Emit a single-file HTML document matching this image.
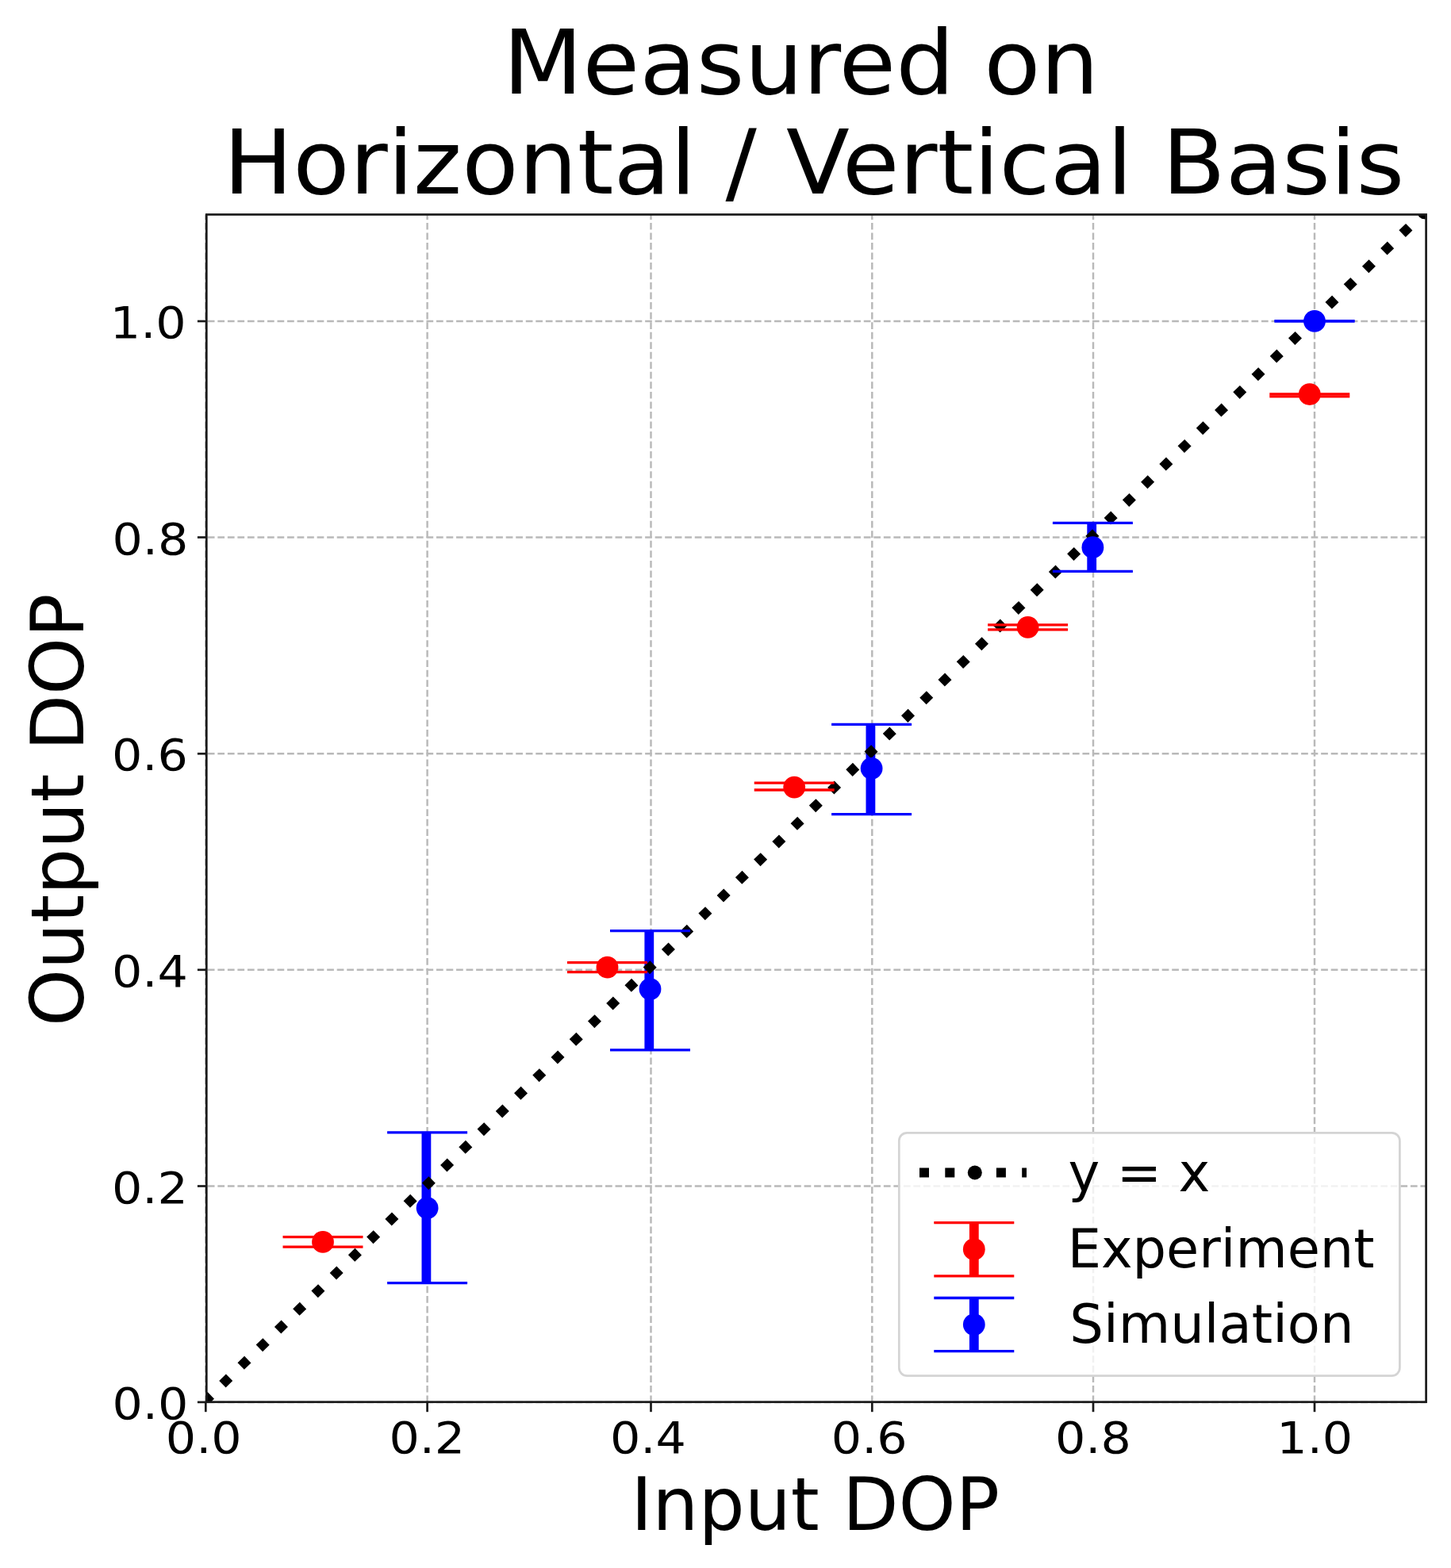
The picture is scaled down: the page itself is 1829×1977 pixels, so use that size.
<!DOCTYPE html><html><head><meta charset="utf-8"><title>Measured on Horizontal / Vertical Basis</title>
<style>html,body{margin:0;padding:0;background:#fff;}svg{display:block;}text{font-family:'DejaVu Sans', 'Liberation Sans', sans-serif;fill:#000;}</style></head><body>
<svg width="1829" height="1977" viewBox="0 0 1829 1977">
<rect x="0" y="0" width="1829" height="1977" fill="#fff"/>
<defs><clipPath id="ax"><rect x="260.3" y="270.5" width="1537.3" height="1497.2"/></clipPath></defs>
<g id="grid">
<line x1="259.3" y1="1768.15" x2="259.3" y2="270.5" stroke="#b9b9b9" stroke-width="2.45" stroke-dasharray="8.73 3.8"/>
<line x1="538.6" y1="1768.15" x2="538.6" y2="270.5" stroke="#b9b9b9" stroke-width="2.45" stroke-dasharray="8.73 3.8"/>
<line x1="820.5" y1="1768.15" x2="820.5" y2="270.5" stroke="#b9b9b9" stroke-width="2.45" stroke-dasharray="8.73 3.8"/>
<line x1="1099.3" y1="1768.15" x2="1099.3" y2="270.5" stroke="#b9b9b9" stroke-width="2.45" stroke-dasharray="8.73 3.8"/>
<line x1="1378.0" y1="1768.15" x2="1378.0" y2="270.5" stroke="#b9b9b9" stroke-width="2.45" stroke-dasharray="8.73 3.8"/>
<line x1="1657.0" y1="1768.15" x2="1657.0" y2="270.5" stroke="#b9b9b9" stroke-width="2.45" stroke-dasharray="8.73 3.8"/>
<line x1="259.3" y1="1767.9" x2="1797.6" y2="1767.9" stroke="#b9b9b9" stroke-width="2.45" stroke-dasharray="8.73 3.8" stroke-dashoffset="-2.5"/>
<line x1="259.3" y1="1495.5" x2="1797.6" y2="1495.5" stroke="#b9b9b9" stroke-width="2.45" stroke-dasharray="8.73 3.8" stroke-dashoffset="-2.5"/>
<line x1="259.3" y1="1222.8" x2="1797.6" y2="1222.8" stroke="#b9b9b9" stroke-width="2.45" stroke-dasharray="8.73 3.8" stroke-dashoffset="-2.5"/>
<line x1="259.3" y1="950.3" x2="1797.6" y2="950.3" stroke="#b9b9b9" stroke-width="2.45" stroke-dasharray="8.73 3.8" stroke-dashoffset="-2.5"/>
<line x1="259.3" y1="677.5" x2="1797.6" y2="677.5" stroke="#b9b9b9" stroke-width="2.45" stroke-dasharray="8.73 3.8" stroke-dashoffset="-2.5"/>
<line x1="259.3" y1="405.0" x2="1797.6" y2="405.0" stroke="#b9b9b9" stroke-width="2.45" stroke-dasharray="8.73 3.8" stroke-dashoffset="-2.5"/>
</g>
<g clip-path="url(#ax)">
<line x1="405.8" y1="1559.7" x2="405.8" y2="1572.05" stroke="#ff0000" stroke-width="11.8"/>
<line x1="764.3" y1="1213.6" x2="764.3" y2="1225.7" stroke="#ff0000" stroke-width="11.8"/>
<line x1="1000.0" y1="987.1" x2="1000.0" y2="996.0" stroke="#ff0000" stroke-width="11.8"/>
<line x1="1294.4" y1="787.9" x2="1294.4" y2="793.8" stroke="#ff0000" stroke-width="11.8"/>
<line x1="1649.6" y1="496.9" x2="1649.6" y2="499.8" stroke="#ff0000" stroke-width="11.8"/>
<line x1="537.4" y1="1427.8" x2="537.4" y2="1617.7" stroke="#0000ff" stroke-width="11.8"/>
<line x1="818.3" y1="1173.6" x2="818.3" y2="1323.9" stroke="#0000ff" stroke-width="11.8"/>
<line x1="1097.4" y1="913.4" x2="1097.4" y2="1026.7" stroke="#0000ff" stroke-width="11.8"/>
<line x1="1376.2" y1="659.3" x2="1376.2" y2="720.4" stroke="#0000ff" stroke-width="11.8"/>
<line x1="258.11" y1="1766.93" x2="1795.58" y2="267.36" stroke="#000" stroke-width="12.0" stroke-dasharray="12.06 20.4" stroke-dashoffset="1.3" stroke-linecap="butt"/>
<circle cx="258.11" cy="1766.93" r="9" fill="#000"/>
<circle cx="1795.5800000000002" cy="267.355" r="9" fill="#000"/>
<line x1="356.5" y1="1559.7" x2="457.5" y2="1559.7" stroke="#ff0000" stroke-width="3.3"/>
<line x1="356.5" y1="1572.05" x2="457.5" y2="1572.05" stroke="#ff0000" stroke-width="3.3"/>
<line x1="715.0" y1="1213.6" x2="816.0" y2="1213.6" stroke="#ff0000" stroke-width="3.3"/>
<line x1="715.0" y1="1225.7" x2="816.0" y2="1225.7" stroke="#ff0000" stroke-width="3.3"/>
<line x1="950.7" y1="987.1" x2="1051.7" y2="987.1" stroke="#ff0000" stroke-width="3.3"/>
<line x1="950.7" y1="996.0" x2="1051.7" y2="996.0" stroke="#ff0000" stroke-width="3.3"/>
<line x1="1245.1" y1="787.9" x2="1346.1" y2="787.9" stroke="#ff0000" stroke-width="3.3"/>
<line x1="1245.1" y1="793.8" x2="1346.1" y2="793.8" stroke="#ff0000" stroke-width="3.3"/>
<line x1="1600.3" y1="496.9" x2="1701.3" y2="496.9" stroke="#ff0000" stroke-width="3.3"/>
<line x1="1600.3" y1="499.8" x2="1701.3" y2="499.8" stroke="#ff0000" stroke-width="3.3"/>
<line x1="488.1" y1="1427.8" x2="589.1" y2="1427.8" stroke="#0000ff" stroke-width="3.3"/>
<line x1="488.1" y1="1617.7" x2="589.1" y2="1617.7" stroke="#0000ff" stroke-width="3.3"/>
<line x1="769.0" y1="1173.6" x2="870.0" y2="1173.6" stroke="#0000ff" stroke-width="3.3"/>
<line x1="769.0" y1="1323.9" x2="870.0" y2="1323.9" stroke="#0000ff" stroke-width="3.3"/>
<line x1="1048.1" y1="913.4" x2="1149.1" y2="913.4" stroke="#0000ff" stroke-width="3.3"/>
<line x1="1048.1" y1="1026.7" x2="1149.1" y2="1026.7" stroke="#0000ff" stroke-width="3.3"/>
<line x1="1326.9" y1="659.3" x2="1427.9" y2="659.3" stroke="#0000ff" stroke-width="3.3"/>
<line x1="1326.9" y1="720.4" x2="1427.9" y2="720.4" stroke="#0000ff" stroke-width="3.3"/>
<line x1="1606.5" y1="404.9" x2="1707.5" y2="404.9" stroke="#0000ff" stroke-width="3.3"/>
<line x1="1606.5" y1="404.9" x2="1707.5" y2="404.9" stroke="#0000ff" stroke-width="3.3"/>
<circle cx="407.0" cy="1565.9" r="13.9" fill="#ff0000"/>
<circle cx="765.5" cy="1219.6" r="13.9" fill="#ff0000"/>
<circle cx="1001.2" cy="992.7" r="13.9" fill="#ff0000"/>
<circle cx="1295.6" cy="790.8" r="13.9" fill="#ff0000"/>
<circle cx="1650.8" cy="497.2" r="13.9" fill="#ff0000"/>
<circle cx="538.6" cy="1523.1" r="13.9" fill="#0000ff"/>
<circle cx="819.5" cy="1247.1" r="13.9" fill="#0000ff"/>
<circle cx="1098.6" cy="968.8" r="13.9" fill="#0000ff"/>
<circle cx="1377.4" cy="690.2" r="13.9" fill="#0000ff"/>
<circle cx="1657.0" cy="404.9" r="13.9" fill="#0000ff"/>
</g>
<rect x="260.3" y="270.5" width="1537.3" height="1497.2" fill="none" stroke="#1a1a1a" stroke-width="2.7"/>
<line x1="259.3" y1="1767.7" x2="259.3" y2="1780.2" stroke="#1a1a1a" stroke-width="2.7"/>
<line x1="260.3" y1="1767.9" x2="248.9" y2="1767.9" stroke="#1a1a1a" stroke-width="2.7"/>
<line x1="538.6" y1="1767.7" x2="538.6" y2="1780.2" stroke="#1a1a1a" stroke-width="2.7"/>
<line x1="260.3" y1="1495.5" x2="248.9" y2="1495.5" stroke="#1a1a1a" stroke-width="2.7"/>
<line x1="820.5" y1="1767.7" x2="820.5" y2="1780.2" stroke="#1a1a1a" stroke-width="2.7"/>
<line x1="260.3" y1="1222.8" x2="248.9" y2="1222.8" stroke="#1a1a1a" stroke-width="2.7"/>
<line x1="1099.3" y1="1767.7" x2="1099.3" y2="1780.2" stroke="#1a1a1a" stroke-width="2.7"/>
<line x1="260.3" y1="950.3" x2="248.9" y2="950.3" stroke="#1a1a1a" stroke-width="2.7"/>
<line x1="1378.0" y1="1767.7" x2="1378.0" y2="1780.2" stroke="#1a1a1a" stroke-width="2.7"/>
<line x1="260.3" y1="677.5" x2="248.9" y2="677.5" stroke="#1a1a1a" stroke-width="2.7"/>
<line x1="1657.0" y1="1767.7" x2="1657.0" y2="1780.2" stroke="#1a1a1a" stroke-width="2.7"/>
<line x1="260.3" y1="405.0" x2="248.9" y2="405.0" stroke="#1a1a1a" stroke-width="2.7"/>
<text transform="matrix(1.03 0 0 0.944 208.85 1832.20)" font-size="58.5">0.0</text>
<text transform="matrix(1.03 0 0 0.944 490.38 1832.20)" font-size="58.5">0.2</text>
<text transform="matrix(1.03 0 0 0.944 768.99 1832.20)" font-size="58.5">0.4</text>
<text transform="matrix(1.03 0 0 0.944 1047.84 1832.20)" font-size="58.5">0.6</text>
<text transform="matrix(1.03 0 0 0.944 1330.01 1832.20)" font-size="58.5">0.8</text>
<text transform="matrix(1.03 0 0 0.944 1609.33 1832.20)" font-size="58.5">1.0</text>
<text transform="matrix(1.03 0 0 0.944 138.82 426.20)" font-size="58.5">1.0</text>
<text transform="matrix(1.03 0 0 0.944 141.50 698.70)" font-size="58.5">0.8</text>
<text transform="matrix(1.03 0 0 0.944 140.99 971.35)" font-size="58.5">0.6</text>
<text transform="matrix(1.03 0 0 0.944 140.99 1244.00)" font-size="58.5">0.4</text>
<text transform="matrix(1.03 0 0 0.944 141.03 1516.70)" font-size="58.5">0.2</text>
<text transform="matrix(1.03 0 0 0.944 141.50 1789.00)" font-size="58.5">0.0</text>
<text transform="matrix(0.991 0 0 1 795.2 1928.8)" font-size="92.6">Input DOP</text>
<text transform="translate(104.6,1021.3) rotate(-90) scale(0.99,1)" font-size="92.6" text-anchor="middle">Output DOP</text>
<text transform="matrix(1.03484 0 0 1 634.1 118.0)" font-size="112.6">Measured on</text>
<text transform="matrix(1.03634 0 0 1 281.6 243.7)" font-size="112.6">Horizontal / Vertical Basis</text>
<rect x="1133.3" y="1428.3" width="631.1" height="306.3" rx="10" ry="10" fill="#fff" fill-opacity="0.8" stroke="#d4d4d4" stroke-width="2.7"/>
<line x1="1159.0" y1="1478.5" x2="1294.0" y2="1478.5" stroke="#000" stroke-width="12.0" stroke-dasharray="12 20.3"/>
<circle cx="1228.8" cy="1478.5" r="9" fill="#000"/>
<line x1="1227.8" y1="1541.6" x2="1227.8" y2="1608.8" stroke="#ff0000" stroke-width="11.8"/>
<line x1="1177.3" y1="1541.6" x2="1278.3" y2="1541.6" stroke="#ff0000" stroke-width="3.3"/>
<line x1="1177.3" y1="1608.8" x2="1278.3" y2="1608.8" stroke="#ff0000" stroke-width="3.3"/>
<circle cx="1227.8" cy="1575.2" r="13.9" fill="#ff0000"/>
<line x1="1227.8" y1="1636.5" x2="1227.8" y2="1703.7" stroke="#0000ff" stroke-width="11.8"/>
<line x1="1177.3" y1="1636.5" x2="1278.3" y2="1636.5" stroke="#0000ff" stroke-width="3.3"/>
<line x1="1177.3" y1="1703.7" x2="1278.3" y2="1703.7" stroke="#0000ff" stroke-width="3.3"/>
<circle cx="1227.8" cy="1670.1" r="13.9" fill="#0000ff"/>
<text transform="matrix(0.997 0 0 1 1346.6 1502.3)" font-size="67.5">y = x</text>
<text transform="matrix(0.992 0 0 1 1345.7 1598.0)" font-size="67.5">Experiment</text>
<text transform="matrix(0.997 0 0 1 1348.3 1692.8)" font-size="67.5">Simulation</text>
</svg></body></html>
